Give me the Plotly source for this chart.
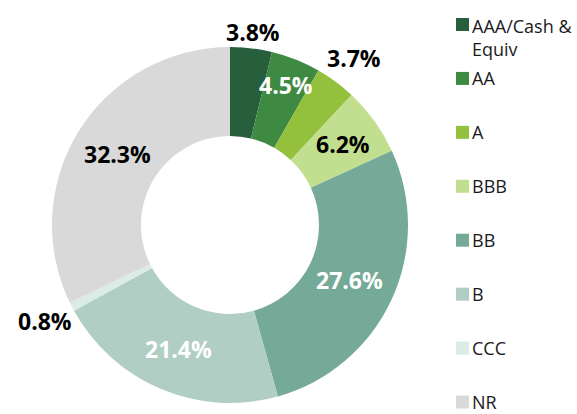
import math
import plotly.graph_objects as go

# ---- data ----
categories = ["AAA/Cash & Equiv", "AA", "A", "BBB", "BB", "B", "CCC", "NR"]
legend_labels = ["AAA/Cash &amp;<br>Equiv", "AA", "A", "BBB", "BB", "B", "CCC", "NR"]
values = [3.8, 4.5, 3.7, 6.2, 27.6, 21.4, 0.8, 32.3]
value_labels = ["3.8%", "4.5%", "3.7%", "6.2%", "27.6%", "21.4%", "0.8%", "32.3%"]

# ---- styles ----
colors = ["#275e3c", "#3f8a42", "#93c13d", "#c2df8f", "#75aa98", "#b0cec4", "#dcebe5", "#d9d9d9"]
label_colors = ["#000000", "#ffffff", "#000000", "#000000", "#ffffff", "#ffffff", "#000000", "#000000"]
label_radius = [194, 151, 208, 139, 132, 134, 208, 133]  # px from center

W, H = 577, 414
CX, CY, R = 230, 225, 178  # pixel center (from top) and outer radius
FONT = "Open Sans"

fig = go.Figure()
fig.add_trace(go.Pie(
    labels=categories,
    values=values,
    hole=0.5,
    sort=False,
    direction="clockwise",
    rotation=0,
    marker=dict(colors=colors, line=dict(width=0)),
    textinfo="none",
    showlegend=False,
    domain=dict(x=[(CX - R) / W, (CX + R) / W],
                y=[(H - CY - R) / H, (H - CY + R) / H]),
))

annotations = []
total = sum(values)
cum = 0.0
for v, lab, col, rr in zip(values, value_labels, label_colors, label_radius):
    mid = (cum + v / 2) / total * 2 * math.pi
    cum += v
    px = CX + rr * math.sin(mid)
    py = CY - rr * math.cos(mid)
    annotations.append(dict(
        x=px / W, y=1 - py / H, xref="paper", yref="paper",
        text=f"<b>{lab}</b>", showarrow=False,
        xanchor="center", yanchor="middle",
        font=dict(family=FONT, size=23, color=col),
    ))

# legend drawn manually to match the spacing of the original
shapes = []
leg_x0, sq = 456, 13
leg_top, leg_step = 24.5, (402 - 24.5) / 7
for i, (lab, col) in enumerate(zip(legend_labels, colors)):
    yc = leg_top + i * leg_step
    shapes.append(dict(
        type="rect", xref="paper", yref="paper",
        x0=leg_x0 / W, x1=(leg_x0 + sq) / W,
        y0=1 - (yc + sq / 2) / H, y1=1 - (yc - sq / 2) / H,
        fillcolor=col, line=dict(width=0),
    ))
    if "<br>" in lab:
        annotations.append(dict(
            x=(leg_x0 + sq + 2) / W, y=1 - (yc - 12) / H, xref="paper", yref="paper",
            text=lab, showarrow=False, xanchor="left", yanchor="top", align="left",
            borderpad=0, font=dict(family=FONT, size=18, color="#1a1a1a"),
        ))
    else:
        annotations.append(dict(
            x=(leg_x0 + sq + 2) / W, y=1 - yc / H, xref="paper", yref="paper",
            text=lab, showarrow=False, xanchor="left", yanchor="middle",
            borderpad=0, font=dict(family=FONT, size=18, color="#1a1a1a"),
        ))

fig.update_layout(
    width=W, height=H,
    margin=dict(l=0, r=0, t=0, b=0),
    paper_bgcolor="white", plot_bgcolor="white",
    annotations=annotations, shapes=shapes,
    showlegend=False,
    font=dict(family=FONT),
)

fig.write_html(
    "out.html",
    config={"displayModeBar": False},
    post_script="document.body.style.margin='0';document.body.style.overflow='hidden';",
)
